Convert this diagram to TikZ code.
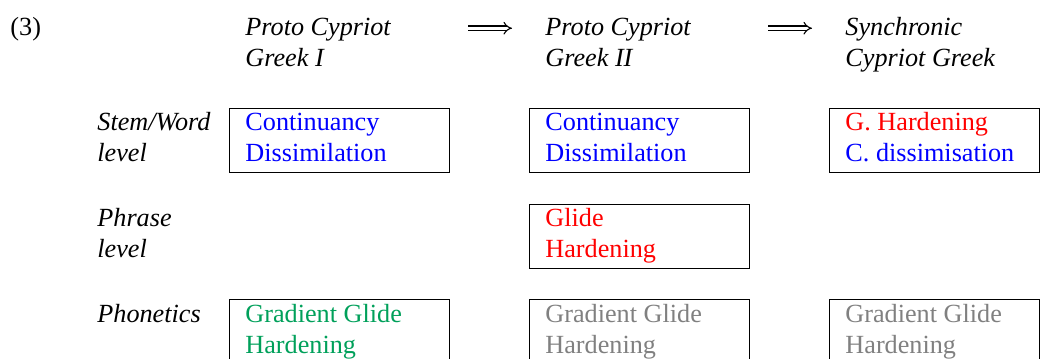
\documentclass[tikz,border=0pt]{standalone}
\usepackage{fontspec}
\setmainfont{Liberation Serif}
\usetikzlibrary{arrows.meta}
\definecolor{cgreen}{RGB}{0,160,90}
\definecolor{cgray}{RGB}{128,128,128}
\definecolor{cblue}{RGB}{0,0,255}
\definecolor{cred}{RGB}{255,0,0}
\tikzset{
  txt/.style={anchor=base west, inner sep=0pt, font=\fontsize{12}{14.2}\selectfont},
  head/.style={txt, font=\fontsize{12}{14.2}\selectfont\itshape},
  procbox/.style={draw=black, line width=0.5pt, anchor=north west, inner sep=0pt,
    minimum width=100.76pt, minimum height=29.31pt},
  narrowbox/.style={minimum width=96.18pt},
  tallbox/.style={minimum height=32.5pt},
  implarrow/.style={double, double distance=1.5pt, line width=0.5pt, -{Implies}},
}
\begin{document}
\begin{tikzpicture}[x=0.458pt, y=-0.458pt]
\useasboundingbox (0,0) rectangle (1040,358);
% header
\node[txt] (num) at (10,35) {(3)};
\node[head] (h1a) at (245,35) {Proto Cypriot};
\node[head] (h1b) at (245,66) {Greek I};
\node[head] (h2a) at (545,35) {Proto Cypriot};
\node[head] (h2b) at (545,66) {Greek II};
\node[head] (h3a) at (845,35) {Synchronic};
\node[head] (h3b) at (845,66) {Cypriot Greek};
\coordinate (a1s) at (468,28.2);
\coordinate (a1e) at (512,28.2);
\coordinate (a2s) at (768,28.2);
\coordinate (a2e) at (812,28.2);
\draw[implarrow] (a1s) -- (a1e);
\draw[implarrow] (a2s) -- (a2e);
% row labels
\node[head] (r1a) at (97,130) {Stem/Word};
\node[head] (r1b) at (97,161) {level};
\node[head] (r2a) at (97,226) {Phrase};
\node[head] (r2b) at (97,257) {level};
\node[head] (r3a) at (97,322) {Phonetics};
% boxes row 1
\node[procbox] (b11) at (229,108) {};
\node[procbox] (b12) at (529,108) {};
\node[procbox, narrowbox] (b13) at (829,108) {};
\node[txt, text=cblue] (t11a) at (245,130) {Continuancy};
\node[txt, text=cblue] (t11b) at (245,161) {Dissimilation};
\node[txt, text=cblue] (t12a) at (545,130) {Continuancy};
\node[txt, text=cblue] (t12b) at (545,161) {Dissimilation};
\node[txt, text=cred] (t13a) at (845,130) {G. Hardening};
\node[txt, text=cblue] (t13b) at (845,161) {C. dissimisation};
% row 2
\node[procbox] (b22) at (529,204) {};
\node[txt, text=cred] (t22a) at (545,226) {Glide};
\node[txt, text=cred] (t22b) at (545,257) {Hardening};
% row 3
\node[procbox, tallbox] (b31) at (229,299) {};
\node[procbox, tallbox] (b32) at (529,299) {};
\node[procbox, tallbox, narrowbox] (b33) at (829,299) {};
\node[txt, text=cgreen] (t31a) at (245,322) {Gradient Glide};
\node[txt, text=cgreen] (t31b) at (245,353) {Hardening};
\node[txt, text=cgray] (t32a) at (545,322) {Gradient Glide};
\node[txt, text=cgray] (t32b) at (545,353) {Hardening};
\node[txt, text=cgray] (t33a) at (845,322) {Gradient Glide};
\node[txt, text=cgray] (t33b) at (845,353) {Hardening};
\end{tikzpicture}
\end{document}
